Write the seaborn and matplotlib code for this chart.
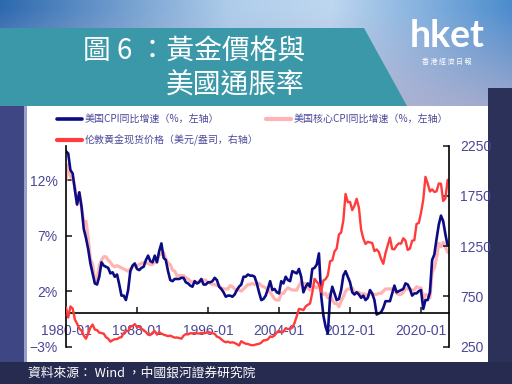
import numpy as np
import pandas as pd
import matplotlib
matplotlib.use("Agg")
import matplotlib.pyplot as plt
from matplotlib.patches import Polygon, Rectangle
from matplotlib.lines import Line2D
import seaborn as sns

# quarterly readings, 1980Q1 .. 2023Q1
quarters = pd.date_range("1980-01-01", "2023-01-01", freq="QS")

cpi_yoy = [
    14.6, 14.4, 12.9, 12.6,  11.1, 9.8, 10.9, 9.6,  7.6, 6.8, 5.8, 4.5,
    3.6, 2.7, 2.6, 3.3,  4.6, 4.3, 4.2, 4.1,  3.6, 3.7, 3.3, 3.5,
    2.6, 1.6, 1.6, 1.2,  2.1, 3.8, 4.3, 4.5,  4.0, 3.9, 4.1, 4.2,
    4.8, 5.2, 4.7, 4.6,  5.2, 4.6, 5.6, 6.3,  5.0, 4.8, 3.8, 3.0,
    2.9, 3.1, 3.1, 3.1,  3.2, 3.2, 2.8, 2.7,  2.5, 2.4, 2.9, 2.7,
    2.8, 3.1, 2.6, 2.6,  2.8, 2.8, 2.9, 3.2,  3.0, 2.4, 2.2, 1.9,
    1.5, 1.6, 1.6, 1.5,  1.7, 2.1, 2.4, 2.6,  3.3, 3.3, 3.5, 3.4,
    3.4, 3.3, 2.7, 1.9,  1.2, 1.3, 1.6, 2.2,  2.9, 2.1, 2.2, 1.9,
    1.8, 2.9, 2.7, 3.3,  3.0, 2.9, 3.8, 3.7,  3.6, 4.0, 3.3, 1.9,
    2.4, 2.7, 2.4, 4.0,  4.1, 4.4, 5.4, 1.6,  -0.2, -1.2, -1.8, 1.4,
    2.4, 1.8, 1.2, 1.3,  2.1, 3.4, 3.8, 3.3,  2.8, 1.9, 1.7, 1.9,
    1.7, 1.4, 1.6, 1.2,  1.4, 2.1, 1.8, 1.2,  -0.1, 0.0, 0.1, 0.5,
    1.1, 1.1, 1.1, 1.8,  2.5, 1.9, 2.0, 2.1,  2.2, 2.7, 2.6, 2.2,
    1.6, 1.8, 1.8, 2.0,  2.1, 0.4, 1.2, 1.2,  1.9, 4.8, 5.3, 6.7,
    8.0, 8.8, 8.3, 7.1,  6.1,
]

core_cpi_yoy = [
    12.0, 13.4, 12.3, 12.2,  11.4, 9.9, 10.9, 9.6,  8.2, 8.3, 6.8, 4.9,
    4.4, 3.0, 3.0, 4.3,  4.8, 5.1, 5.1, 4.8,  4.6, 4.3, 4.2, 4.3,
    4.2, 4.1, 4.0, 3.9,  3.8, 4.0, 4.2, 4.3,  4.3, 4.4, 4.5, 4.6,
    4.6, 4.5, 4.4, 4.4,  4.6, 4.7, 5.3, 5.3,  5.5, 4.9, 4.5, 4.4,
    3.9, 3.8, 3.4, 3.4,  3.4, 3.4, 3.2, 3.1,  2.9, 2.8, 2.9, 2.7,
    2.9, 3.0, 3.0, 3.0,  2.8, 2.7, 2.6, 2.6,  2.5, 2.5, 2.3, 2.2,
    2.2, 2.2, 2.5, 2.4,  2.2, 2.1, 2.1, 2.0,  2.2, 2.4, 2.6, 2.6,
    2.7, 2.6, 2.7, 2.7,  2.5, 2.4, 2.3, 2.1,  1.9, 1.6, 1.3, 1.2,
    1.2, 1.8, 1.8, 2.1,  2.3, 2.2, 2.1, 2.1,  2.1, 2.5, 2.8, 2.7,
    2.7, 2.3, 2.1, 2.3,  2.4, 2.3, 2.5, 2.0,  1.7, 1.8, 1.4, 1.8,
    1.2, 0.9, 0.9, 0.6,  1.1, 1.5, 2.0, 2.2,  2.2, 2.3, 1.9, 1.9,
    1.9, 1.7, 1.8, 1.7,  1.6, 1.9, 1.7, 1.7,  1.7, 1.8, 1.8, 2.0,
    2.2, 2.2, 2.2, 2.2,  2.2, 1.8, 1.7, 1.7,  1.9, 2.2, 2.2, 2.2,
    2.1, 2.1, 2.4, 2.3,  2.3, 1.3, 1.7, 1.6,  1.4, 3.7, 4.1, 5.0,
    6.3, 6.0, 6.4, 6.0,  5.5,
]

gold_usd = [
    640, 540, 650, 630,  520, 480, 430, 410,  360, 330, 380, 440,
    470, 420, 415, 390,  385, 380, 345, 330,  300, 315, 325, 325,
    340, 345, 385, 405,  405, 450, 455, 475,  445, 450, 430, 415,
    395, 370, 365, 390,  405, 370, 395, 380,  370, 362, 355, 360,
    350, 340, 342, 336,  330, 360, 375, 372,  385, 382, 386, 384,
    380, 388, 384, 386,  400, 390, 385, 378,  350, 342, 324, 305,
    294, 300, 290, 294,  287, 276, 262, 305,  290, 280, 277, 268,
    264, 268, 274, 278,  290, 313, 314, 323,  352, 347, 363, 392,
    408, 393, 401, 434,  427, 427, 439, 486,  554, 627, 622, 614,
    650, 667, 680, 787,  925, 896, 872, 795,  909, 922, 960, 1100,
    1109, 1197, 1227, 1367,  1386, 1506, 1770, 1688,  1691, 1609, 1652, 1722,
    1632, 1415, 1326, 1272,  1293, 1288, 1282, 1201,  1218, 1192, 1124, 1075,
    1183, 1260, 1335, 1222,  1219, 1257, 1278, 1275,  1329, 1306, 1213, 1226,
    1304, 1310, 1472, 1481,  1583, 1711, 1940, 1874,  1794, 1816, 1790, 1796,
    1874, 1871, 1700, 1726,  1910,
]

x_tick_dates = ["1980-01-01", "1988-01-01", "1996-01-01", "2004-01-01", "2012-01-01", "2020-01-01"]
x_tick_labels = ["1980-01", "1988-01", "1996-01", "2004-01", "2012-01", "2020-01"]
left_ticks = [-3, 2, 7, 12]
left_labels = ["\u22123%", "2%", "7%", "12%"]
right_ticks = [250, 750, 1250, 1750, 2250]

series_names = ["美国CPI同比增速（%，左轴）", "伦敦黄金现货价格（美元/盎司，右轴）", "美国核心CPI同比增速（%，左轴）"]
title_lines = ["圖 6 ：黃金價格與", "美國通脹率"]
source_text = "資料來源： Wind ，中國銀河證券研究院"

navy = "#0b0b84"
pink = "#ffb3b3"
red = "#ff3b3b"
label_color = "#4a4898"

sns.set_style("white")
plt.rcParams["font.family"] = ["Liberation Sans Narrow", "Liberation Sans", "DejaVu Sans"]
cjk_sc = ["Noto Sans CJK SC", "DejaVu Sans"]
cjk_tc = ["Noto Sans CJK TC", "DejaVu Sans"]

# ---- background artwork (pixel coordinates) ----
W, H = 512, 384
bg = np.zeros((H, W, 3))
bg[:] = np.array([39, 43, 80]) / 255
xs = np.arange(W)
stops = [0, 230, 330, 512]
top_cols = np.array([[45, 105, 175], [175, 205, 235], [190, 215, 240], [75, 140, 205]])
hgrad = np.stack([np.interp(xs, stops, top_cols[:, c]) for c in range(3)], axis=1) / 255
lav = np.array([180, 176, 205]) / 255
for y in range(0, 106):
    a = np.clip((y - 8) / 98, 0, 1) * 0.8
    bg[y] = (1 - a) * hgrad + a * lav
bg[106:362, :24] = np.array([62, 70, 132]) / 255
bg[106:362, 24:27] = np.array([150, 160, 200]) / 255
bg[88:362, 488:] = np.array([44, 49, 90]) / 255

fig = plt.figure(figsize=(5.12, 3.84), dpi=100)
bgax = fig.add_axes([0, 0, 1, 1])
bgax.imshow(bg, extent=(0, W, H, 0), aspect="auto")
bgax.set_xlim(0, W)
bgax.set_ylim(H, 0)
bgax.axis("off")
bgax.set_zorder(0)
bgax.add_patch(Polygon([(0, 28), (364, 28), (407, 106), (0, 106)], closed=True,
                       facecolor="#3a98a9", edgecolor="none", zorder=2))
bgax.add_patch(Rectangle((27, 106), 461, 256, facecolor="white", edgecolor="none", zorder=2))

bgax.text(305, 52, title_lines[0], color="white", fontsize=20, ha="right", va="center",
          family=cjk_tc, weight="light", zorder=3)
bgax.text(305, 86, title_lines[1], color="white", fontsize=20, ha="right", va="center",
          family=cjk_tc, weight="light", zorder=3)
bgax.text(447, 36, "hket", color="white", fontsize=27, ha="center", va="center",
          family=["Lato", "DejaVu Sans"], weight="bold", zorder=3)
bgax.text(447, 62, "香 港 經 濟 日 報", color="white", fontsize=5, ha="center", va="center",
          family=cjk_tc, zorder=3)
bgax.text(28, 373, source_text, color="white", fontsize=9.2, ha="left", va="center",
          family=cjk_tc, weight="light", zorder=3)

# ---- chart ----
ax = fig.add_axes([66 / W, 1 - 346.7 / H, 383 / W, 201 / H])
ax.set_zorder(1)
ax.patch.set_visible(False)

sns.lineplot(x=quarters, y=core_cpi_yoy, ax=ax, color=pink, linewidth=2.3)
sns.lineplot(x=quarters, y=cpi_yoy, ax=ax, color=navy, linewidth=1.9)
ax.set_ylim(-3, 15.1)
ax.set_xlim(pd.Timestamp("1980-01-01"), pd.Timestamp("2023-02-25"))

ax2 = ax.twinx()
sns.lineplot(x=quarters, y=gold_usd, ax=ax2, color=red, linewidth=1.7)
ax2.set_ylim(250, 2250)
ax2.set_xlim(pd.Timestamp("1980-01-01"), pd.Timestamp("2023-02-25"))

for a in (ax, ax2):
    a.set_xlabel("")
    a.set_ylabel("")
    a.grid(False)
    a.spines["top"].set_visible(False)

ax.spines["right"].set_visible(False)
ax.spines["bottom"].set_position(("data", 0))
ax2.spines["bottom"].set_visible(False)
ax2.spines["left"].set_visible(False)
for s in (ax.spines["left"], ax.spines["bottom"], ax2.spines["right"]):
    s.set_color("black")
    s.set_linewidth(1.2)

ax.set_xticks(pd.to_datetime(x_tick_dates))
ax.set_xticklabels(x_tick_labels)
ax.set_yticks(left_ticks)
ax.set_yticklabels(left_labels)
ax2.set_yticks(right_ticks)
ax2.set_yticklabels([str(v) for v in right_ticks])

ax.tick_params(axis="x", direction="in", length=4, width=1.2, pad=8, labelsize=10,
               labelcolor=label_color, bottom=True)
ax.tick_params(axis="y", direction="in", length=4, width=1.2, pad=6, labelsize=10,
               labelcolor=label_color, left=True)
ax2.tick_params(axis="y", direction="in", length=4, width=1.2, pad=8, labelsize=10,
                labelcolor=label_color, right=True)

handles = [Line2D([], [], color=navy, linewidth=2.6),
           Line2D([], [], color=red, linewidth=3.0),
           Line2D([], [], color=pink, linewidth=3.0)]
leg = ax2.legend(handles, series_names, ncol=2, loc="upper left",
                 bbox_to_anchor=(57 / W, 1 - 114 / H), bbox_transform=fig.transFigure,
                 frameon=False, prop={"family": cjk_sc, "size": 7.2},
                 handlelength=2.5, handletextpad=0.3, columnspacing=0.7,
                 labelspacing=1.1, borderpad=0, borderaxespad=0, labelcolor=label_color)

fig.savefig("out.png", dpi=100)
